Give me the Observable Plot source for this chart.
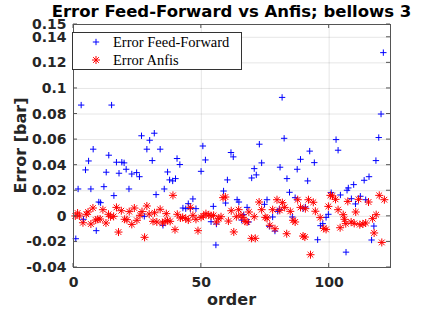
<!DOCTYPE html>
<html><head><meta charset="utf-8">
<script src="https://cdn.jsdelivr.net/npm/d3@7"></script>
<script src="https://cdn.jsdelivr.net/npm/@observablehq/plot@0.6"></script>
<style>html,body{margin:0;padding:0;background:#fff}svg{display:block}</style>
</head><body><div id="chart"></div>
<script>
// ---- data ----
const blueX = [0.9,1.8,3.0,3.9,4.7,5.9,6.8,7.7,8.9,9.9,10.6,11.9,12.8,13.8,14.9,15.8,16.8,17.8,18.9,19.8,20.6,21.7,22.8,24.7,25.8,26.6,27.7,28.7,29.8,30.8,31.6,32.3,33.9,35.0,35.5,36.8,37.6,38.8,39.9,40.5,41.6,42.8,43.9,44.9,45.7,46.7,47.9,49.9,50.6,51.6,53.8,54.7,55.7,55.9,58.7,59.5,60.2,61.6,62.5,64.0,64.7,65.8,66.6,67.9,68.5,69.7,70.7,71.5,72.7,73.6,74.7,75.7,76.6,77.9,78.8,79.9,80.5,80.8,81.6,82.4,83.5,84.5,85.6,86.7,87.5,88.8,89.8,90.7,91.6,92.4,94.2,95.5,96.6,97.5,98.8,99.7,100.8,102.7,103.5,104.4,106.6,107.0,107.5,108.7,109.6,110.3,112.2,113.7,114.3,115.6,116.6,117.5,118.3,119.4,120.3,121.2];
const blueY = [-0.0175,0.0214,0.087,-0.0023,0.0363,0.0433,0.0214,0.0525,-0.0112,0.0112,0.0107,0.0232,0.0345,0.0478,0.087,0.0162,0.0423,0.0337,0.0423,0.0418,0.0368,0.0214,0.0331,0.0342,0.031,0.063,0.0,0.0525,0.0595,0.0436,0.065,0.017,0.0525,-0.007,0.0214,0.0347,0.0285,0.0277,0.0295,0.0452,0.0405,0.0065,0.006,0.0099,0.006,0.0136,0.006,0.0352,0.055,0.0441,-0.0042,0.0078,-0.0224,-0.006,0.0198,0.0104,0.0285,0.0499,0.0465,0.013,0.0112,-0.0029,0.0013,0.007,-0.0044,0.030,0.0373,0.0324,0.0564,0.0418,0.0094,0.013,-0.0078,-0.0005,-0.0115,0.0039,0.0055,0.0384,0.093,0.061,0.0295,0.0188,-0.0005,0.0146,0.0368,0.0446,0.006,0.0073,0.0277,0.051,0.042,-0.0183,-0.0073,-0.0057,-0.0008,0.0016,0.0185,0.060,0.0517,0.0167,-0.028,0.0204,0.0222,0.0138,0.0248,0.0097,0.0157,0.0282,0.013,0.031,-0.0185,-0.0076,0.0436,0.0616,0.080,0.128];
const redX = [0.7,1.6,2.3,3.7,5.0,5.7,6.8,7.6,8.7,9.5,10.4,11.5,12.7,13.7,14.5,15.7,16.8,17.6,18.7,20.0,20.9,21.8,22.8,23.8,24.8,26.0,26.8,27.8,28.7,29.6,31.1,31.7,32.6,33.9,34.8,35.8,36.3,36.8,37.8,38.9,39.7,40.6,41.8,42.7,43.9,44.9,45.7,46.7,47.9,48.7,49.9,50.8,51.8,52.9,53.8,54.8,55.9,56.8,57.7,58.5,59.4,60.6,61.7,62.7,63.7,64.6,65.5,66.3,67.1,67.9,68.6,69.6,70.7,71.1,72.6,73.6,75.0,75.7,76.8,77.9,78.8,79.6,80.7,81.7,82.6,83.4,84.8,85.9,86.7,87.7,88.8,89.8,90.5,90.7,91.9,92.7,93.8,94.6,96.5,97.9,98.8,99.7,100.5,101.3,102.5,103.5,104.3,105.5,106.0,106.5,107.3,108.6,109.8,110.4,111.5,112.0,113.2,114.3,115.4,117.0,117.6,118.4,119.6,120.6,121.6];
const redY = [0.0003,0.0026,0.0003,-0.005,0.0016,0.0034,-0.006,0.0065,-0.0029,-0.0023,-0.0021,0.0052,-0.0052,0.0016,-0.0003,0.0,0.007,-0.0123,0.0044,-0.0023,-0.0026,0.0037,-0.0063,0.0065,-0.0031,0.0008,0.0037,-0.0164,0.0081,0.0018,-0.0039,0.0028,-0.0044,0.0055,-0.0052,-0.0039,0.0021,-0.0034,-0.0039,0.0164,-0.0104,0.0016,-0.0013,-0.0008,-0.0016,-0.0029,0.007,0.0008,-0.0023,-0.0112,-0.0008,0.0003,0.0021,0.001,0.0005,0.0008,-0.0044,-0.0018,-0.0003,0.0146,0.0151,-0.0037,0.0044,-0.0122,-0.0003,0.0052,0.0008,-0.0008,-0.0039,-0.0044,0.0034,-0.0172,-0.0003,-0.0172,0.0112,0.0052,-0.0008,-0.0013,-0.007,0.0052,-0.0097,0.013,0.0047,0.0107,0.007,-0.0136,0.0039,-0.0031,-0.0044,0.013,0.007,-0.0154,-0.0162,0.006,0.013,-0.030,0.011,0.004,-0.001,-0.0094,-0.0102,0.0078,0.0164,0.0159,0.0133,0.0052,-0.0089,0.0013,-0.0023,-0.0057,0.0117,-0.0044,-0.0055,0.0034,0.0133,-0.0065,-0.006,-0.0052,0.0112,-0.0018,-0.013,0.0013,0.0164,-0.0204,0.013];

const xTicks = [0, 50, 100];
const xTickLabels = ["0", "50", "100"];
const yTicks = [-0.04, -0.02, 0, 0.02, 0.04, 0.06, 0.08, 0.1, 0.12, 0.14, 0.15];
const yTickLabels = ["-0.04", "-0.02", "0", "0.02", "0.04", "0.06", "0.08", "0.1", "0.12", "0.14", "0.15"];
const seriesNames = ["Error Feed-Forward", "Error Anfis"];
const seriesColors = ["#0000ff", "#ff0000"];
const titleText = "Error Feed-Forward vs Anfis; bellows 3";
const xLabel = "order";
const yLabel = "Error [bar]";

const blue = blueX.map((x, i) => ({x, y: blueY[i]}));
const red = redX.map((x, i) => ({x, y: redY[i]}));

const plusR = 2.2, starPlusR = 2.7, starTimesR = 2.7;

const plot = Plot.plot({
  width: 432, height: 313,
  marginLeft: 73, marginRight: 42, marginTop: 24, marginBottom: 46,
  style: {fontFamily: "DejaVu Sans", background: "#fff", overflow: "visible"},
  x: {domain: [0, 124]},
  y: {domain: [-0.04, 0.15]},
  marks: [
    Plot.gridX(xTicks, {stroke: "#000", strokeOpacity: 0.1}),
    Plot.gridY(yTicks, {stroke: "#000", strokeOpacity: 0.1}),
    Plot.axisX(xTicks, {tickSize: 0, tickPadding: 10, label: null,
      tickFormat: d => xTickLabels[xTicks.indexOf(d)],
      fontSize: 14, fontWeight: "bold", fill: "#262626"}),
    Plot.axisY(yTicks, {tickSize: 0, tickPadding: 7, label: null,
      tickFormat: d => yTickLabels[yTicks.indexOf(d)],
      fontSize: 14, fontWeight: "bold", fill: "#262626"}),
    Plot.dot(blue, {x: "x", y: "y", symbol: "plus", r: plusR, stroke: seriesColors[0], strokeWidth: 1}),
    Plot.dot(red, {x: "x", y: "y", symbol: "plus", r: starPlusR, stroke: seriesColors[1], strokeWidth: 1}),
    Plot.dot(red, {x: "x", y: "y", symbol: "times", r: starTimesR, stroke: seriesColors[1], strokeWidth: 1}),
    Plot.frame({stroke: "#555", strokeWidth: 1})
  ]
});

document.getElementById("chart").appendChild(plot);

const svg = d3.select(plot);
const sx = plot.scale("x"), sy = plot.scale("y");
const [xa, xb] = [sx.apply(sx.domain[0]), sx.apply(sx.domain[1])];
const [ya, yb] = [sy.apply(sy.domain[0]), sy.apply(sy.domain[1])]; // bottom, top

// inward tick marks (MATLAB style)
const tg = svg.append("g").attr("stroke", "#555").attr("stroke-width", 1);
yTicks.forEach(v => {
  const y = sy.apply(v);
  tg.append("line").attr("x1", xa).attr("x2", xa + 4).attr("y1", y).attr("y2", y);
  tg.append("line").attr("x1", xb - 4).attr("x2", xb).attr("y1", y).attr("y2", y);
});
xTicks.forEach(v => {
  const x = sx.apply(v);
  tg.append("line").attr("x1", x).attr("x2", x).attr("y1", ya).attr("y2", ya - 4);
  tg.append("line").attr("x1", x).attr("x2", x).attr("y1", yb).attr("y2", yb + 4);
});

// title and axis labels
svg.append("text").attr("x", (xa + xb) / 2).attr("y", 17).attr("text-anchor", "middle")
  .attr("font-family", "DejaVu Sans").attr("font-weight", "bold").attr("font-size", 16.5)
  .attr("fill", "#000").text(titleText);
svg.append("text").attr("x", (xa + xb) / 2).attr("y", 305).attr("text-anchor", "middle")
  .attr("font-family", "DejaVu Sans").attr("font-weight", "bold").attr("font-size", 16)
  .attr("fill", "#262626").text(xLabel);
svg.append("text").attr("transform", `translate(26,${(ya + yb) / 2}) rotate(-90)`).attr("text-anchor", "middle")
  .attr("font-family", "DejaVu Sans").attr("font-weight", "bold").attr("font-size", 16)
  .attr("fill", "#262626").text(yLabel);

// legend
const lg = svg.append("g");
lg.append("rect").attr("x", 72.5).attr("y", 32.5).attr("width", 169).attr("height", 37)
  .attr("fill", "#fff").attr("stroke", "#333").attr("stroke-width", 1);
lg.append("path").attr("transform", "translate(96,42)")
  .attr("d", d3.symbol(d3.symbolPlus, Math.PI * plusR * plusR)()).attr("fill", "none").attr("stroke", seriesColors[0]);
lg.append("path").attr("transform", "translate(96,60)")
  .attr("d", d3.symbol(d3.symbolPlus, Math.PI * starPlusR * starPlusR)()).attr("fill", "none").attr("stroke", seriesColors[1]);
lg.append("path").attr("transform", "translate(96,60)")
  .attr("d", d3.symbol(d3.symbolTimes, Math.PI * starTimesR * starTimesR)()).attr("fill", "none").attr("stroke", seriesColors[1]);
seriesNames.forEach((name, i) => {
  lg.append("text").attr("x", 113).attr("y", 46.5 + i * 18).attr("text-anchor", "start")
    .attr("font-family", "Liberation Serif").attr("font-size", 14.5).attr("fill", "#000").text(name);
});
</script>
</body></html>
